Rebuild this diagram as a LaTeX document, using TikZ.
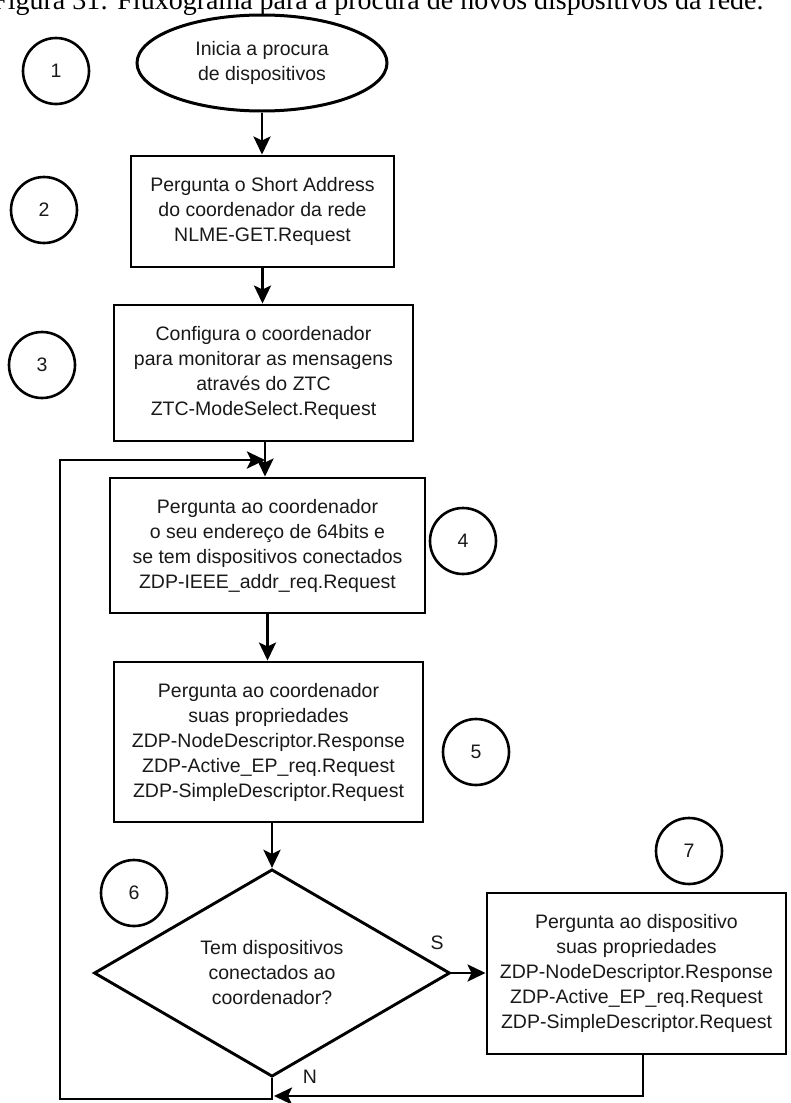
\documentclass[tikz,border=0pt]{standalone}
\usepackage{fontspec}
\setmainfont{Liberation Sans}
\newfontfamily\capfont{Liberation Serif}
\usetikzlibrary{arrows.meta,shapes.geometric}

\tikzset{
  every node/.style={text=black!90},
  txt/.style={font=\fontsize{19.5}{25}\selectfont, align=center},
  stepbox/.style={txt, draw=black, line width=2.9pt, rectangle, inner sep=0pt},
  startoval/.style={txt, draw=black, line width=3pt, ellipse, inner sep=0pt,
    minimum width=250pt, minimum height=96pt},
  decision/.style={txt, draw=black, line width=2.9pt, diamond, inner sep=0pt,
    minimum width=356pt, minimum height=200pt},
  numcirc/.style={txt, draw=black, line width=2.6pt, circle, inner sep=0pt,
    minimum size=66pt},
  flow/.style={draw=black, line width=2.9pt,
    -{Stealth[length=18pt,width=17pt,inset=4pt]}},
  lbl/.style={font=\fontsize{19.5}{25}\selectfont}
}

\begin{document}
\begin{tikzpicture}[x=1pt,y=-1pt]
\useasboundingbox (0,0) rectangle (790,1103);
\clip (0,0) rectangle (790,1103);
\fill[white] (0,0) rectangle (790,1103);

% caption line, partly outside the page
\node[anchor=base west, inner sep=0pt, text=black,
      font=\capfont\fontsize{28}{30}\selectfont] (cap) at (-8,9)
  {Figura 31: Fluxograma para a procura de novos dispositivos da rede.};

% flow steps
\node[startoval] (ell) at (262,63) {Inicia a procura\\de dispositivos};
\node[stepbox, minimum width=263pt, minimum height=111pt] (b2) at (262.5,211.5)
  {Pergunta o Short Address\\do coordenador da rede\\NLME-GET.Request};
\node[stepbox, minimum width=299pt, minimum height=136pt] (b3) at (263.5,373)
  {Configura o coordenador\\para monitorar as mensagens\\através do ZTC\\ZTC-ModeSelect.Request};
\node[stepbox, minimum width=315pt, minimum height=135pt] (b4) at (267.5,545.5)
  {Pergunta ao coordenador\\o seu endereço de 64bits e\\se tem dispositivos conectados\\ZDP-IEEE\_addr\_req.Request};
\node[stepbox, minimum width=309pt, minimum height=160pt] (b5) at (268.5,742)
  {Pergunta ao coordenador\\suas propriedades\\ZDP-NodeDescriptor.Response\\ZDP-Active\_EP\_req.Request\\ZDP-SimpleDescriptor.Request};
\node[decision] (dia) at (272,973)
  {Tem dispositivos\\conectados ao\\coordenador?};
\node[stepbox, minimum width=299pt, minimum height=161pt] (b7) at (636.5,973.5)
  {Pergunta ao dispositivo\\suas propriedades\\ZDP-NodeDescriptor.Response\\ZDP-Active\_EP\_req.Request\\ZDP-SimpleDescriptor.Request};

% step numbers
\node[numcirc] (c1) at (56,71) {1};
\node[numcirc] (c2) at (44,210) {2};
\node[numcirc] (c3) at (42,365) {3};
\node[numcirc] (c4) at (463,541) {4};
\node[numcirc] (c5) at (476,752) {5};
\node[numcirc] (c6) at (134,893) {6};
\node[numcirc] (c7) at (689,851) {7};

% branch labels
\node[lbl] (s) at (437,943) {S};
\node[lbl] (n) at (310,1077) {N};

% routing points
\coordinate (merge) at (265,460);
\coordinate (lb) at (60,1099);
\coordinate (r7) at (643,1096);
\coordinate (rj) at (274,1096);

% connectors
\draw[flow] (ell.south) -- (ell.south |- b2.north);
\draw[flow] (b2.south) -- (b2.south |- b3.north);
\draw[flow] (merge |- b3.south) -- (merge |- b4.north);
\draw[flow] (b4.south) -- (b4.south |- b5.north);
\draw[flow] (b5.south -| dia.north) -- (dia.north);
\draw[flow] (dia.east) -- (dia.east -| b7.west);
\draw[flow] (dia.south) |- (lb) |- (merge);
\draw[flow] (r7 |- b7.south) -- (r7) -- (rj);
\end{tikzpicture}
\end{document}
